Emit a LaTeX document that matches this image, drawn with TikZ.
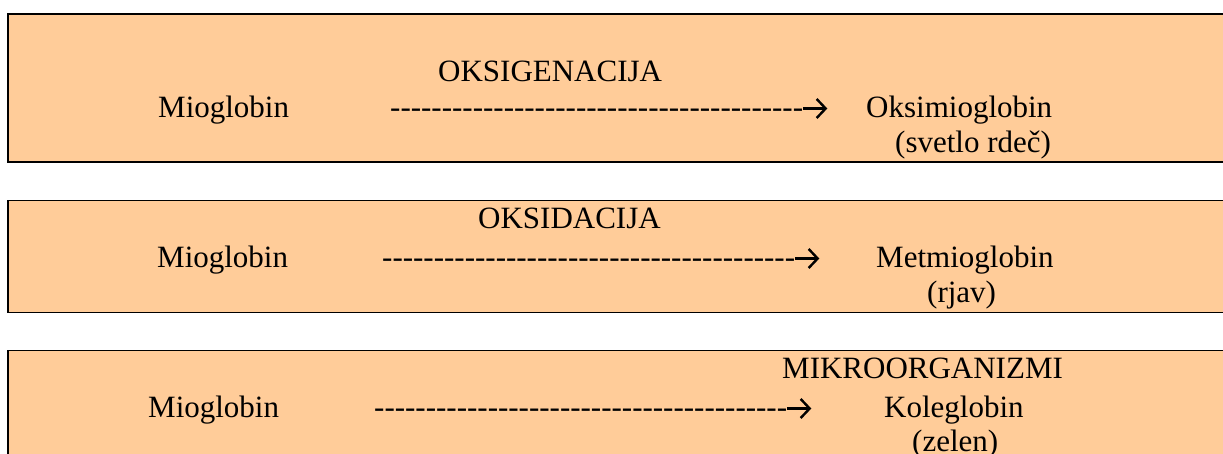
\documentclass[tikz,border=0pt]{standalone}
\usepackage{fontspec}
\setmainfont{LiberationSerif}[Extension=.ttf, UprightFont=*-Regular, BoldFont=*-Bold, ItalicFont=*-Italic, BoldItalicFont=*-BoldItalic]
\newfontfamily\dashfont{LiberationSerif}[Extension=.ttf, UprightFont=*-Regular]
\usetikzlibrary{arrows.meta}
\ExplSyntaxOn
\NewDocumentCommand\dashrun{m}{\prg_replicate:nn{#1}{-\kern0pt}}
\ExplSyntaxOff
\definecolor{boxfill}{HTML}{FFCC99}
\tikzset{
  panel/.style={draw=black, fill=boxfill, line width=1.7pt},
  lbl/.style={anchor=base west, inner sep=0pt, font=\fontsize{31}{36}\selectfont},
  dsh/.style={anchor=base west, inner sep=0pt, font=\fontsize{31}{36}\selectfont\dashfont},
  arr/.style={line width=2.4pt, -{Straight Barb[length=9pt,width=19pt,line width=2.4pt]}},
}
\begin{document}
\begin{tikzpicture}[x=1pt,y=-1pt]
\useasboundingbox (0,0) rectangle (1223,453);
\begin{scope}
\clip (0,0) rectangle (1223,453);
\draw[panel] (8,14) rectangle (1240,162);
\draw[panel] (8,200.5) rectangle (1240,312.5);
\draw[panel] (8,350.5) rectangle (1240,470);
\end{scope}
% box 1
\node[lbl] (t1) at (438,81) {OKSIGENACIJA};
\node[lbl] (a1) at (158,117) {Mioglobin};
\node[dsh] (d1) at (390,117) {\dashrun{40}};
\coordinate (e1) at ([yshift=8.5pt]d1.base east);
\draw[arr] (e1) -- ++(24,0);
\node[lbl] (b1) at (866,117) {Oksimioglobin};
\node[lbl] (c1) at (895,152) {(svetlo rdeč)};
% box 2
\node[lbl] (t2) at (478,228) {OKSIDACIJA};
\node[lbl] (a2) at (157,267) {Mioglobin};
\node[dsh] (d2) at (382,267) {\dashrun{40}};
\coordinate (e2) at ([yshift=8.5pt]d2.base east);
\draw[arr] (e2) -- ++(24,0);
\node[lbl] (b2) at (876,267) {Metmioglobin};
\node[lbl] (c2) at (927,302) {(rjav)};
% box 3
\node[lbl] (t3) at (782,378) {MIKROORGANIZMI};
\node[lbl] (a3) at (148,417) {Mioglobin};
\node[dsh] (d3) at (374,417) {\dashrun{40}};
\coordinate (e3) at ([yshift=8.5pt]d3.base east);
\draw[arr] (e3) -- ++(24,0);
\node[lbl] (b3) at (884,417) {Koleglobin};
\node[lbl] (c3) at (912,451) {(zelen)};
\end{tikzpicture}
\end{document}
